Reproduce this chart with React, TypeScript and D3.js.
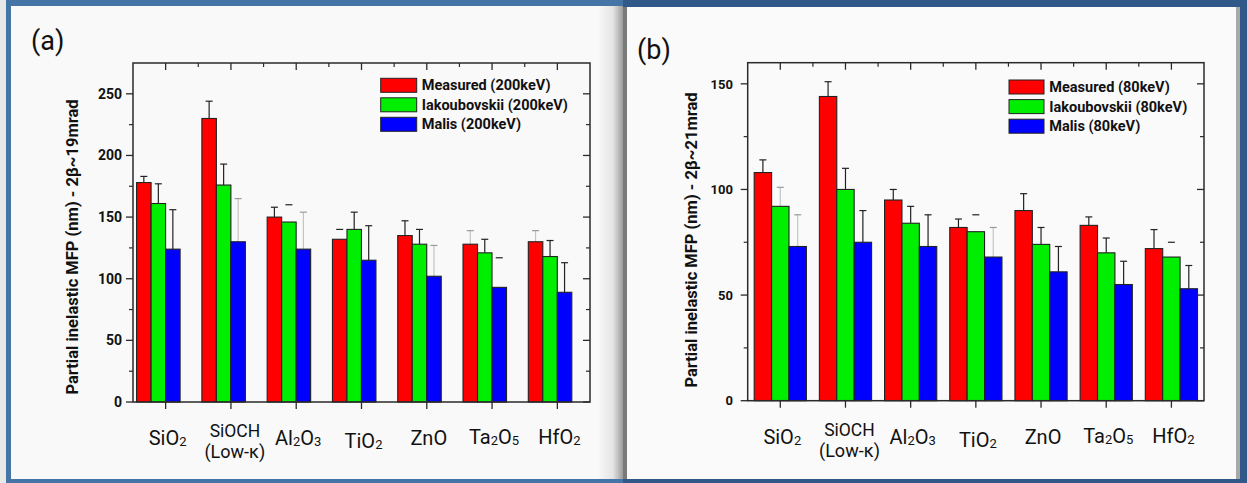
import React from 'react';
import * as d3 from 'd3';

// ---------- DATA ----------
const categories = ['SiO2', 'SiOCH', 'Al2O3', 'TiO2', 'ZnO', 'Ta2O5', 'HfO2'];
const categorySecondLine = ['', '(Low-κ)', '', '', '', '', ''];

const seriesNamesA = ['Measured (200keV)', 'Iakoubovskii (200keV)', 'Malis (200keV)'];
const measuredA = [178, 230, 150, 132, 135, 128, 130];
const iakoubovskiiA = [161, 176, 146, 140, 128, 121, 118];
const malisA = [124, 130, 124, 115, 102, 93, 89];
const measuredErrTopA = [183, 244, 158, 140, 147, 139, 139];
const iakoubovskiiErrTopA = [177, 193, 160, 154, 140, 132, 131];
const malisErrTopA = [156, 165, 154, 143, 127, 117, 113];
// error bar style: d = dark, l = light line, c = cap only
const measuredErrStyleA = ['d', 'd', 'd', 'c', 'd', 'l', 'l'];
const iakoubovskiiErrStyleA = ['d', 'd', 'c', 'd', 'd', 'd', 'd'];
const malisErrStyleA = ['d', 'l', 'l', 'd', 'l', 'c', 'd'];
const yTicksA = [0, 50, 100, 150, 200, 250];

const seriesNamesB = ['Measured (80keV)', 'Iakoubovskii (80keV)', 'Malis (80keV)'];
const measuredB = [108, 144, 95, 82, 90, 83, 72];
const iakoubovskiiB = [92, 100, 84, 80, 74, 70, 68];
const malisB = [73, 75, 73, 68, 61, 55, 53];
const measuredErrTopB = [114, 151, 100, 86, 98, 87, 81];
const iakoubovskiiErrTopB = [101, 110, 92, 88, 82, 77, 75];
const malisErrTopB = [88, 90, 88, 82, 73, 66, 64];
const measuredErrStyleB = ['d', 'd', 'd', 'd', 'd', 'd', 'd'];
const iakoubovskiiErrStyleB = ['l', 'd', 'd', 'c', 'd', 'd', 'c'];
const malisErrStyleB = ['l', 'd', 'd', 'l', 'd', 'd', 'd'];
const yTicksB = [0, 50, 100, 150];

const seriesColors = ['#ff0000', '#00ee00', '#0000ff'];

// ---------- COMPONENTS ----------
function ChemLabel({ x, y, text, size, subSize }: any) {
  const parts: any[] = [];
  let buf = '';
  let isDigit = false;
  for (const ch of text) {
    const d = /[0-9]/.test(ch);
    if (buf && d !== isDigit) {
      parts.push({ t: buf, sub: isDigit });
      buf = '';
    }
    buf += ch;
    isDigit = d;
  }
  if (buf) parts.push({ t: buf, sub: isDigit });
  return (
    <text x={x} y={y} textAnchor="middle" fontFamily="Roboto" fontSize={size} fill="#111">
      {parts.map((p, i) => (
        <tspan key={i} fontSize={p.sub ? subSize : size} baselineShift={p.sub ? '-1' : undefined}>
          {p.t}
        </tspan>
      ))}
    </text>
  );
}

function Panel(props: any) {
  const {
    left, right, top, bottom, yMax, yTicks, series, errTops, errStyles, names,
    barW, groupShift, tickFont, tickLabelRight, yLabel, yLabelX, yLabelY,
    legendX, legendY, legendSwW, legendTextX, legendFont, legendGap, labelDy,
  } = props;
  const x = d3.scaleBand().domain(categories).range([left, right]).padding(0);
  const y = d3.scaleLinear().domain([0, yMax]).range([bottom, top]);
  const centers = categories.map((c) => (x(c) as number) + x.bandwidth() / 2);
  const minorY: number[] = [];
  for (let v = 25; v < yMax; v += 50) minorY.push(v);
  const axisColor = '#2a2a2a';
  const errColor = (s: string) => (s === 'd' ? '#222' : s === 'l' ? '#c4c4c4' : 'none');
  const capColor = (s: string) => (s === 'l' ? '#9a9a9a' : '#222');

  return (
    <g>
      {series.map((vals: number[], si: number) =>
        vals.map((v, ci) => {
          const cx = centers[ci] + groupShift + (si - 1) * barW;
          const bx = cx - barW / 2;
          const st = errStyles[si][ci];
          const et = errTops[si][ci];
          return (
            <g key={`${si}-${ci}`}>
              <line x1={cx} x2={cx} y1={y(v)} y2={y(et)} stroke={errColor(st)} strokeWidth={1.2} />
              <line x1={cx - 3.5} x2={cx + 3.5} y1={y(et)} y2={y(et)} stroke={capColor(st)} strokeWidth={1.2} />
              <rect x={bx} y={y(v)} width={barW} height={bottom - y(v)} fill={seriesColors[si]} stroke="#222" strokeWidth={1.1} />
            </g>
          );
        })
      )}
      <rect x={left} y={top} width={right - left} height={bottom - top} fill="none" stroke={axisColor} strokeWidth={1.5} />
      {yTicks.map((t: number) => (
        <g key={'yt' + t}>
          <line x1={left - 7} x2={left} y1={y(t)} y2={y(t)} stroke={axisColor} strokeWidth={1.3} />
          <line x1={right - 7} x2={right} y1={y(t)} y2={y(t)} stroke={axisColor} strokeWidth={1.3} />
          <text x={tickLabelRight} y={y(t)} dy="0.36em" textAnchor="end" fontFamily="Roboto" fontWeight="bold" fontSize={tickFont} fill="#111">
            {t}
          </text>
        </g>
      ))}
      {minorY.map((t) => (
        <g key={'ym' + t}>
          <line x1={left - 4} x2={left} y1={y(t)} y2={y(t)} stroke={axisColor} strokeWidth={1.2} />
          <line x1={right - 4} x2={right} y1={y(t)} y2={y(t)} stroke={axisColor} strokeWidth={1.2} />
        </g>
      ))}
      {centers.map((c, i) => (
        <g key={'xt' + i}>
          <line x1={c} x2={c} y1={bottom} y2={bottom + 7} stroke={axisColor} strokeWidth={1.3} />
          <line x1={c} x2={c} y1={top} y2={top + 7} stroke={axisColor} strokeWidth={1.3} />
          {i > 0 ? (
            <line x1={x(categories[i]) as number} x2={x(categories[i]) as number} y1={top} y2={top + 4} stroke={axisColor} strokeWidth={1.2} />
          ) : null}
        </g>
      ))}
      {categories.map((c, i) =>
        categorySecondLine[i] ? (
          <g key={'xl' + i}>
            <ChemLabel x={centers[i] + 4} y={bottom + 35} text={c} size={17.5} subSize={12} />
            <text x={centers[i] + 4} y={bottom + 56} textAnchor="middle" fontFamily="Roboto" fontSize={18} fill="#111">
              {categorySecondLine[i]}
            </text>
          </g>
        ) : (
          <ChemLabel key={'xl' + i} x={centers[i] + 2} y={bottom + 43 + labelDy[i]} text={c} size={20} subSize={13} />
        )
      )}
      <text
        transform={`translate(${yLabelX},${yLabelY}) rotate(-90)`}
        textAnchor="middle"
        dominantBaseline="central"
        fontFamily="Roboto"
        fontWeight="bold"
        fontSize={16.5}
        fill="#111"
      >
        {yLabel}
      </text>
      {names.map((n: string, i: number) => (
        <g key={'lg' + i}>
          <rect x={legendX} y={legendY + i * legendGap} width={legendSwW} height={14} fill={seriesColors[i]} stroke="#222" strokeWidth={1} />
          <text x={legendTextX} y={legendY + i * legendGap + 12} fontFamily="Roboto" fontWeight="bold" fontSize={legendFont} fill="#111">
            {n}
          </text>
        </g>
      ))}
    </g>
  );
}

export default function App() {
  const W = 1247;
  const H = 483;
  return (
    <svg width={W} height={H} style={{ position: 'absolute', left: 0, top: 0 }}>
      <defs>
        <linearGradient id="divider" x1="0" x2="1" y1="0" y2="0">
          <stop offset="0" stopColor="#f8f8f8" />
          <stop offset="0.6" stopColor="#e4e4e4" />
          <stop offset="0.8" stopColor="#c0c0c0" />
          <stop offset="1" stopColor="#9a9a9a" />
        </linearGradient>
      </defs>
      <rect x={0} y={0} width={W} height={H} fill="#e8e8e8" />
      <rect x={6} y={0} width={620} height={H} fill="#4574a6" />
      <rect x={11} y={6} width={612} height={473} fill="#f9f9f9" />
      <rect x={598} y={6} width={25} height={473} fill="url(#divider)" />
      <rect x={623} y={0} width={W - 623} height={H} fill="#30598a" />
      <rect x={623} y={7} width={4} height={472} fill="#7a7a7a" />
      <rect x={627} y={7} width={610} height={472} fill="#fafafa" />
      <rect x={1236} y={7} width={4} height={472} fill="#a8a8a8" />

      <text x={31} y={50} fontFamily="Roboto" fontSize={27} fill="#111">(a)</text>
      <text x={637} y={59} fontFamily="Roboto" fontSize={27} fill="#111">(b)</text>

      <Panel
        left={133} right={590} top={63} bottom={402} yMax={275} yTicks={yTicksA}
        series={[measuredA, iakoubovskiiA, malisA]}
        errTops={[measuredErrTopA, iakoubovskiiErrTopA, malisErrTopA]}
        errStyles={[measuredErrStyleA, iakoubovskiiErrStyleA, malisErrStyleA]}
        names={seriesNamesA}
        barW={14.5} groupShift={-7.3} tickFont={14} tickLabelRight={122}
        yLabel="Partial inelastic MFP (nm) - 2β~19mrad" yLabelX={72} yLabelY={247}
        legendX={380.7} legendY={78.3} legendSwW={36} legendTextX={421.7} legendFont={14.5} legendGap={19.5}
        labelDy={[0, 0, 0, 3, 0, -1, -1]}
      />
      <Panel
        left={747.7} right={1204} top={62.7} bottom={400.7} yMax={160} yTicks={yTicksB}
        series={[measuredB, iakoubovskiiB, malisB]}
        errTops={[measuredErrTopB, iakoubovskiiErrTopB, malisErrTopB]}
        errStyles={[measuredErrStyleB, iakoubovskiiErrStyleB, malisErrStyleB]}
        names={seriesNamesB}
        barW={17.4} groupShift={0} tickFont={13} tickLabelRight={733}
        yLabel="Partial inelastic MFP (nm) - 2β~21mrad" yLabelX={691} yLabelY={240}
        legendX={1009} legendY={80} legendSwW={35} legendTextX={1049.3} legendFont={14.5} legendGap={19.6}
        labelDy={[0, 0, 0, 3, 0, -1, -1]}
      />
    </svg>
  );
}
